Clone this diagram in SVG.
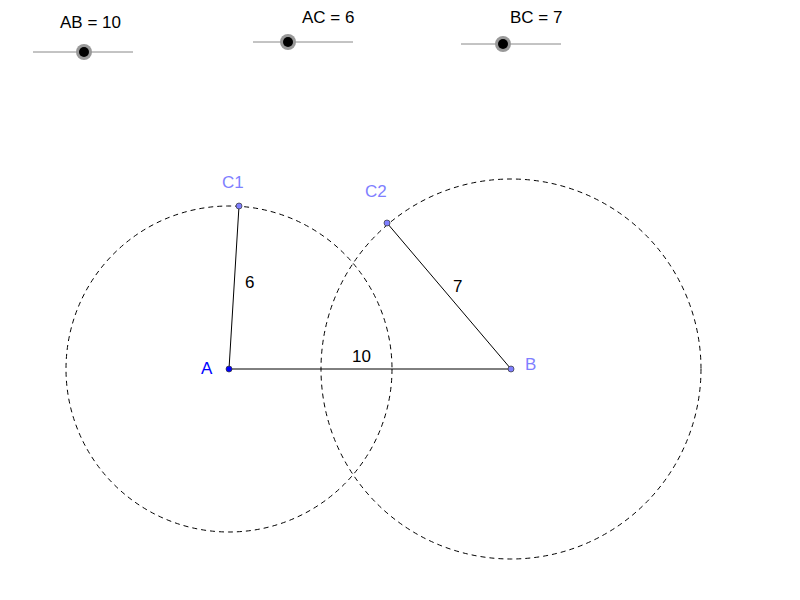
<svg xmlns="http://www.w3.org/2000/svg" width="800" height="600" viewBox="0 0 800 600">
<style>
text{font-family:"Liberation Sans",Arial,sans-serif;font-size:17px}
.sl{stroke:#888;stroke-width:1}
.circ{fill:none;stroke:#000;stroke-width:1;stroke-dasharray:5,4}
.seg{stroke:#000;stroke-width:1}
.pt{fill:#7f7fff;stroke:#333;stroke-width:0.7}
.lbl{fill:#7f7fff}
</style>
<rect width="800" height="600" fill="#fff"/>
<g id="sliderAB"><line class="sl" x1="33" y1="52" x2="133" y2="52"/><circle cx="84" cy="52" r="8" fill="#999"/><circle cx="84" cy="52" r="5" fill="#000"/><text x="60" y="28">AB = 10</text></g>
<g id="sliderAC"><line class="sl" x1="253" y1="42" x2="353" y2="42"/><circle cx="288" cy="42" r="8" fill="#999"/><circle cx="288" cy="42" r="5" fill="#000"/><text x="302" y="23">AC = 6</text></g>
<g id="sliderBC"><line class="sl" x1="461" y1="44" x2="561" y2="44"/><circle cx="503" cy="44" r="8" fill="#999"/><circle cx="503" cy="44" r="5" fill="#000"/><text x="510" y="23">BC = 7</text></g>
<g id="connectors">
<circle class="circ" cx="229" cy="369" r="163"/>
<circle class="circ" cx="511" cy="369" r="190"/>
<line class="seg" x1="229" y1="369" x2="511" y2="369" stroke-width="2"/>
<line class="seg" x1="229" y1="369" x2="239" y2="206"/>
<line class="seg" x1="511" y1="369" x2="387" y2="223"/>
<text x="352" y="362">10</text>
<text x="245" y="288">6</text>
<text x="453" y="292">7</text>
</g>
<g id="A"><circle cx="229" cy="369" r="3" fill="#00f" stroke="#333" stroke-width="0.7"/><text x="201" y="374" fill="#00f">A</text></g>
<g id="B"><circle class="pt" cx="511" cy="369" r="3"/><text class="lbl" x="525" y="370">B</text></g>
<g id="C1"><circle class="pt" cx="239" cy="206" r="3"/><text class="lbl" x="222" y="188">C1</text></g>
<g id="C2"><circle class="pt" cx="387" cy="223" r="3"/><text class="lbl" x="365" y="197">C2</text></g>
</svg>
